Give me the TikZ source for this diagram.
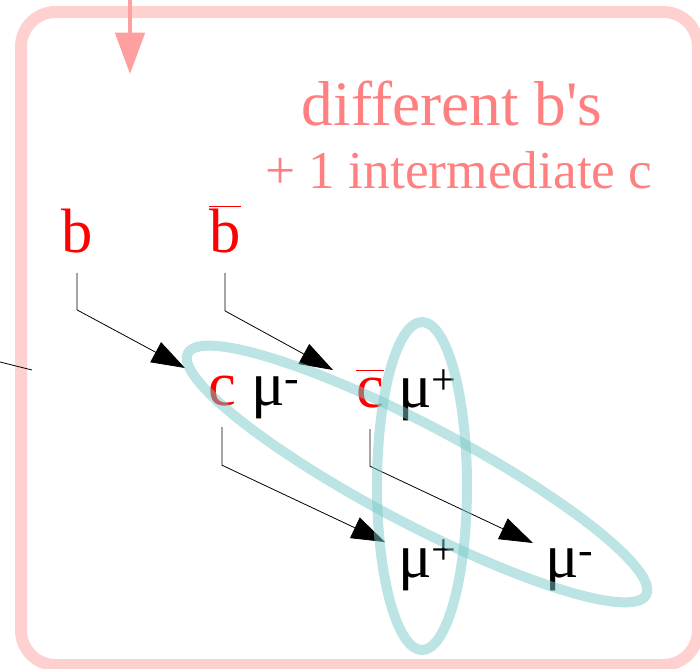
\documentclass[tikz,border=0pt]{standalone}
\usepackage{fontspec}
\setmainfont{Liberation Serif}
\usetikzlibrary{arrows.meta}
\definecolor{framepink}{RGB}{255,208,208}
\definecolor{arrowpink}{RGB}{255,160,160}
\definecolor{notepink}{RGB}{255,128,128}
\definecolor{ringcyan}{RGB}{121,201,201}
\newcommand{\antiq}[2][b]{$\overline{\mbox{\vphantom{#1}#2}}$}
\begin{document}
\begin{tikzpicture}[
        x=0.75pt, y=-0.75pt,
        every node/.style={inner sep=0pt, anchor=base},
        quark/.style={text=red, font=\fontsize{47}{47}\selectfont},
        muon/.style={text=black, font=\fontsize{47}{47}\selectfont, anchor=base west},
        flow/.style={draw=black, line width=0.6pt, -{Triangle[length=25pt, width=17pt]}},
        ring/.style={draw=ringcyan, draw opacity=0.5, line width=7.5pt}
    ]
        \useasboundingbox (0,0) rectangle (700,668);
        \draw[framepink, line width=9pt, rounded corners=26pt] (21,12) rectangle (698,665);
        \coordinate (entry) at (130,-5);
        \coordinate (entrytip) at (130,74);
        \draw[arrowpink, line width=3pt, -{Triangle[length=31pt, width=22pt]}] (entry) -- (entrytip);

        \node[text=notepink, font=\fontsize{47.5}{47.5}\selectfont] (title) at (452,125) {different b\textquotesingle s};
        \node[text=notepink, font=\fontsize{40}{40}\selectfont] (subtitle) at (459,188) {+ 1 intermediate c};

        \node[quark] (b)    at (77,252) {b};
        \node[quark] (bbar) at (225,252) {\antiq{b}};
        \node[quark] (c)    at (222,405) {c};
        \node[muon]  (mua)  at (251,405) {μ\textsuperscript{-}};
        \node[quark] (cbar) at (370,407) {\antiq[t]{c}};
        \node[muon]  (mub)  at (398,407) {μ\textsuperscript{+}};
        \node[muon]  (muc)  at (398,577) {μ\textsuperscript{+}};
        \node[muon]  (mud)  at (545,577) {μ\textsuperscript{-}};

        \coordinate (tipb)    at (185,368);
        \coordinate (tipbbar) at (333,370);
        \coordinate (tipc)    at (385,542);
        \coordinate (tipcbar) at (533,543);
        \draw[flow] ([yshift=-15pt]b.south) -- ++(0,37) -- (tipb);
        \draw[flow] ([yshift=-15pt]bbar.south) -- ++(0,38) -- (tipbbar);
        \draw[flow] ([yshift=-16pt]c.south) -- ++(0,38) -- (tipc);
        \draw[flow] ([yshift=-16pt]cbar.south) -- ++(0,37) -- (tipcbar);

        \coordinate (stubin) at (0,362);
        \coordinate (stubout) at (32,370);
        \draw[line width=0.6pt] (stubin) -- (stubout);

        \draw[ring] (417,474) ellipse [x radius=259, y radius=49, rotate=-27.8];
        \draw[ring] (422,486) ellipse [x radius=45, y radius=164];
    \end{tikzpicture}
\end{document}
